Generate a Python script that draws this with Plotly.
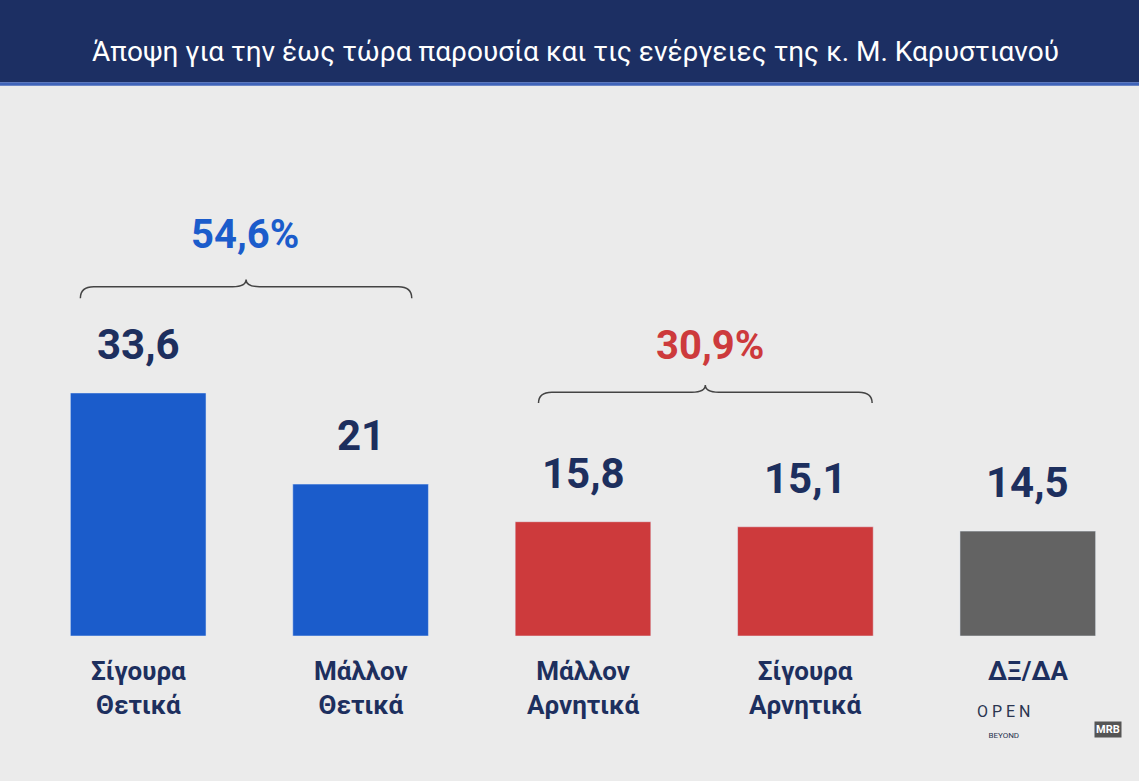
import plotly.graph_objects as go

categories = ["Σίγουρα<br>Θετικά", "Μάλλον<br>Θετικά", "Μάλλον<br>Αρνητικά", "Σίγουρα<br>Αρνητικά", "ΔΞ/ΔΑ"]
values = [33.6, 21, 15.8, 15.1, 14.5]
value_labels = ["33,6", "21", "15,8", "15,1", "14,5"]
bar_colors = ["#1b5ccb", "#1b5ccb", "#cd3a3c", "#cd3a3c", "#636363"]
group_labels = ["54,6%", "30,9%"]
title = "Άποψη για την έως τώρα παρουσία και τις ενέργειες της κ. Μ. Καρυστιανού"

x = list(range(len(categories)))
navy = "#1d2f5e"

fig = go.Figure(go.Bar(x=x, y=values, marker_color=bar_colors, width=0.61, hoverinfo="skip"))

for i, v in enumerate(values):
    fig.add_annotation(x=i, y=v, text="<b>" + value_labels[i] + "</b>", showarrow=False,
                       yanchor="bottom", yshift=22, font=dict(size=42, color=navy, family="Roboto"))
    fig.add_annotation(x=i, y=0, text="<b>" + categories[i] + "</b>", showarrow=False,
                       yanchor="top", yshift=-18, font=dict(size=26, color=navy, family="Roboto"))

def brace(x0, x1, ybot, ytop, ypeak):
    xm = (x0 + x1) / 2
    d = 0.06
    return (f"M {x0},{ybot} Q {x0},{ytop} {x0+d},{ytop} L {xm-d},{ytop} Q {xm},{ytop} {xm},{ypeak} "
            f"Q {xm},{ytop} {xm+d},{ytop} L {x1-d},{ytop} Q {x1},{ytop} {x1},{ybot}")

fig.add_shape(type="path", path=brace(-0.26, 1.23, 46.7, 48.3, 49.3), line=dict(color="#444", width=1.5))
fig.add_shape(type="path", path=brace(1.80, 3.30, 32.2, 33.7, 34.7), line=dict(color="#444", width=1.5))
fig.add_annotation(x=0.48, y=55.5, text="<b>" + group_labels[0] + "</b>", showarrow=False,
                   font=dict(size=40, color="#1b5ccb", family="Roboto"))
fig.add_annotation(x=2.57, y=40.2, text="<b>" + group_labels[1] + "</b>", showarrow=False,
                   font=dict(size=40, color="#cd3a3c", family="Roboto"))

# header band
fig.add_shape(type="rect", xref="paper", yref="paper", x0=-0.1, x1=1.1, y0=1.276, y1=1.7,
              fillcolor="#1c2f63", line_width=0, layer="below")
fig.add_shape(type="rect", xref="paper", yref="paper", x0=-0.1, x1=1.1, y0=1.268, y1=1.276,
              fillcolor="#3f63b8", line_width=0, layer="below")
fig.add_annotation(xref="paper", yref="paper", x=0.493, y=1.39, text=title, showarrow=False,
                   font=dict(size=28, color="white", family="Roboto"))

fig.add_annotation(xref="paper", yref="paper", x=0.905, y=-0.245,
                   text="O P E N<br><span style='font-size:8px'>BEYOND</span>",
                   showarrow=False, font=dict(size=16, color="#2a3550", family="Roboto"))
fig.add_annotation(xref="paper", yref="paper", x=0.985, y=-0.235, text="<b>MRB</b>", showarrow=False,
                   bgcolor="#555", font=dict(size=11, color="white", family="Roboto"))

fig.update_layout(
    width=1139, height=781,
    margin=dict(l=27, r=0, t=202, b=145),
    paper_bgcolor="#ebebeb", plot_bgcolor="rgba(0,0,0,0)",
    showlegend=False,
    xaxis=dict(range=[-0.5, 4.5], visible=False, fixedrange=True),
    yaxis=dict(range=[0, 60], visible=False, fixedrange=True),
)

fig.write_html("out.html", config={"displayModeBar": False},
               post_script="document.body.style.margin='0';document.body.style.background='#ebebeb';")
